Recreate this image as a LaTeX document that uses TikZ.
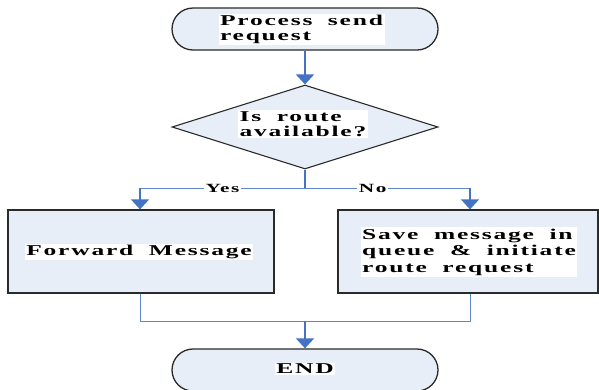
\documentclass[tikz,border=0pt]{standalone}
\usepackage{fontspec}
\setmainfont{Liberation Serif}
\newfontfamily\diafont[FakeStretch=1.7,LetterSpace=12,WordSpace=1.9]{Liberation Serif}
\usetikzlibrary{shapes.geometric,arrows.meta}
\definecolor{shapefill}{HTML}{E8EEF8}
\definecolor{linkblue}{HTML}{4472C4}
\definecolor{edgegray}{HTML}{2A2A2A}
\tikzset{
  terminal/.style={draw=edgegray, line width=1.3pt, fill=shapefill, rectangle, rounded corners=21pt, minimum width=266pt, minimum height=42pt, inner sep=0pt},
  procbox/.style={draw=edgegray, line width=1.3pt, fill=shapefill, rectangle, minimum height=83pt, inner sep=0pt},
  decision/.style={draw=edgegray, line width=1.1pt, fill=shapefill, diamond, aspect=3.17, minimum width=266pt, minimum height=84pt, inner sep=0pt},
  txt/.style={fill=white, inner sep=1.5pt, align=left, font=\diafont\bfseries\fontsize{15}{15}\selectfont, text=black},
  lbl/.style={fill=white, inner sep=2pt, font=\diafont\bfseries\fontsize{12.5}{13}\selectfont, text=black},
  arr/.style={draw=linkblue, line width=1.6pt, -{Triangle[width=18pt,length=10pt]}},
  link/.style={draw=linkblue, line width=1.6pt},
  hlink/.style={draw=linkblue!85, line width=1pt},
}
\begin{document}
\begin{tikzpicture}[x=1pt,y=-1pt]
\useasboundingbox (0,0) rectangle (599,389);
\begin{scope}
\clip (0,0) rectangle (599,389);
% shapes
\node[terminal] (start) at (305,29) {};
\node[decision] (dec) at (305,127) {};
\node[procbox, minimum width=266pt] (fwd) at (141,251.5) {};
\node[procbox, minimum width=260pt] (save) at (468,251.5) {};
\node[terminal] (end) at (305,370) {};
% texts
\node[txt] (starttxt) at (301.5,29.5) {Process send\\request};
\node[txt] (dectxt) at (303,124) {Is route\\available?};
\node[txt] (fwdtxt) at (139,252) {Forward Message};
\node[txt, font=\diafont\bfseries\fontsize{15}{16.5}\selectfont] (savetxt) at (469,252) {Save message in\\queue \& initiate\\route request};
\node[txt] (endtxt) at (305,369) {END};
% junction coordinates
\coordinate (j1) at (305,188);
\coordinate (jl) at (140,188);
\coordinate (jr) at (470,188);
\coordinate (bl) at (140,321);
\coordinate (br) at (470,321);
\coordinate (bm) at (305,321);
% connectors
\draw[arr] (start.south) -- (dec.north);
\draw[link] (dec.south) -- (j1);
\draw[hlink] (j1) -- node[lbl, pos=0.5] (yes) {Yes} (jl);
\draw[hlink] (j1) -- node[lbl, pos=0.41] (no) {No} (jr);
\draw[arr] (jl) -- (jl |- fwd.north);
\draw[arr] (jr) -- (jr |- save.north);
\draw[hlink] (bl |- fwd.south) -- (bl) -- (br) -- (br |- save.south);
\draw[arr] (bm) -- (end.north);
\end{scope}
\end{tikzpicture}
\end{document}
